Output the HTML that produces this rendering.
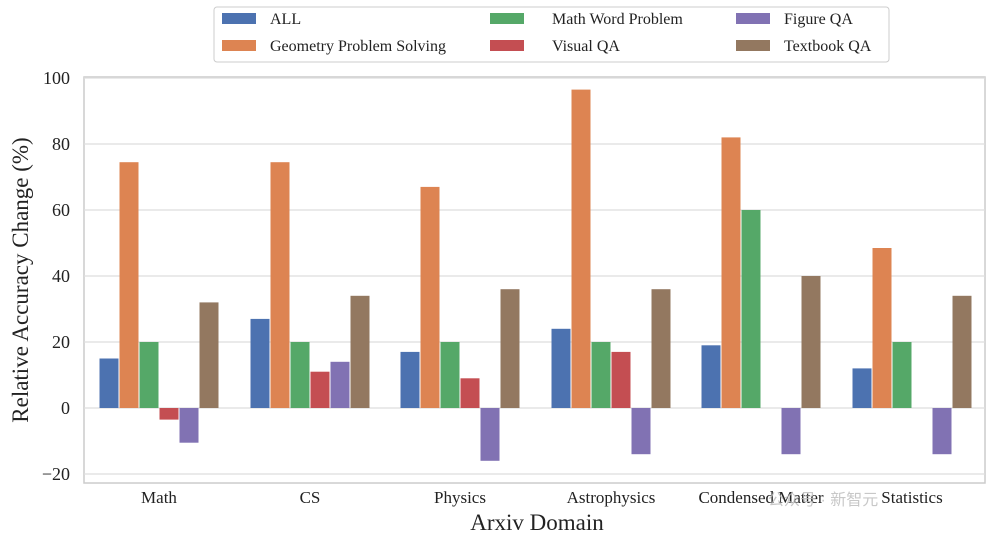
<!DOCTYPE html>
<html><head><meta charset="utf-8"><style>
body{margin:0;background:#fff;}
</style></head><body>
<svg width="1000" height="539" xmlns="http://www.w3.org/2000/svg" font-family="Liberation Serif, serif">
<rect x="0" y="0" width="1000" height="539" fill="#fff"/>
<rect x="84" y="77" width="901" height="406" fill="#fff" stroke="#ccc" stroke-width="1.5"/>
<g stroke="#ddd" stroke-width="1.2">
<line x1="84" x2="985" y1="78" y2="78"/>
<line x1="84" x2="985" y1="144" y2="144"/>
<line x1="84" x2="985" y1="210" y2="210"/>
<line x1="84" x2="985" y1="276" y2="276"/>
<line x1="84" x2="985" y1="342" y2="342"/>
<line x1="84" x2="985" y1="408" y2="408"/>
<line x1="84" x2="985" y1="474" y2="474"/>
</g>
<g font-size="18" fill="#222" text-anchor="end">
<text x="70" y="84">100</text><text x="70" y="150">80</text><text x="70" y="216">60</text>
<text x="70" y="282">40</text><text x="70" y="348">20</text><text x="70" y="414">0</text><text x="70" y="480">−20</text>
</g>
<text transform="translate(28,280) rotate(-90)" font-size="23" text-anchor="middle" fill="#222">Relative Accuracy Change (%)</text>
<text x="537" y="530" font-size="23" text-anchor="middle" fill="#222">Arxiv Domain</text>
<g font-size="17" fill="#222" text-anchor="middle">
<text x="159" y="503">Math</text><text x="310" y="503">CS</text><text x="460" y="503">Physics</text>
<text x="611" y="503">Astrophysics</text><text x="761" y="503">Condensed Matter</text><text x="912" y="503">Statistics</text>
</g>
<g>
<rect x="99.5" y="358.5" width="19" height="49.5" fill="#4C72B0"/>
<rect x="119.5" y="162.2" width="19" height="245.8" fill="#DD8452"/>
<rect x="139.5" y="342" width="19" height="66" fill="#55A868"/>
<rect x="159.5" y="408" width="19" height="11.6" fill="#C44E52"/>
<rect x="179.5" y="408" width="19" height="34.7" fill="#8172B3"/>
<rect x="199.5" y="302.4" width="19" height="105.6" fill="#937860"/>

<rect x="250.5" y="318.9" width="19" height="89.1" fill="#4C72B0"/>
<rect x="270.5" y="162.2" width="19" height="245.8" fill="#DD8452"/>
<rect x="290.5" y="342" width="19" height="66" fill="#55A868"/>
<rect x="310.5" y="371.7" width="19" height="36.3" fill="#C44E52"/>
<rect x="330.5" y="361.8" width="19" height="46.2" fill="#8172B3"/>
<rect x="350.5" y="295.8" width="19" height="112.2" fill="#937860"/>

<rect x="400.5" y="351.9" width="19" height="56.1" fill="#4C72B0"/>
<rect x="420.5" y="186.9" width="19" height="221.1" fill="#DD8452"/>
<rect x="440.5" y="342" width="19" height="66" fill="#55A868"/>
<rect x="460.5" y="378.3" width="19" height="29.7" fill="#C44E52"/>
<rect x="480.5" y="408" width="19" height="52.8" fill="#8172B3"/>
<rect x="500.5" y="289.2" width="19" height="118.8" fill="#937860"/>

<rect x="551.5" y="328.8" width="19" height="79.2" fill="#4C72B0"/>
<rect x="571.5" y="89.6" width="19" height="318.4" fill="#DD8452"/>
<rect x="591.5" y="342" width="19" height="66" fill="#55A868"/>
<rect x="611.5" y="351.9" width="19" height="56.1" fill="#C44E52"/>
<rect x="631.5" y="408" width="19" height="46.2" fill="#8172B3"/>
<rect x="651.5" y="289.2" width="19" height="118.8" fill="#937860"/>

<rect x="701.5" y="345.3" width="19" height="62.7" fill="#4C72B0"/>
<rect x="721.5" y="137.4" width="19" height="270.6" fill="#DD8452"/>
<rect x="741.5" y="210" width="19" height="198" fill="#55A868"/>
<rect x="781.5" y="408" width="19" height="46.2" fill="#8172B3"/>
<rect x="801.5" y="276" width="19" height="132" fill="#937860"/>

<rect x="852.5" y="368.4" width="19" height="39.6" fill="#4C72B0"/>
<rect x="872.5" y="248" width="19" height="160" fill="#DD8452"/>
<rect x="892.5" y="342" width="19" height="66" fill="#55A868"/>
<rect x="932.5" y="408" width="19" height="46.2" fill="#8172B3"/>
<rect x="952.5" y="295.8" width="19" height="112.2" fill="#937860"/>
</g>
<g font-size="16" fill="#bbb" font-family="Liberation Sans, Noto Sans CJK SC, sans-serif"><text x="768" y="505" opacity="0.8">公众号 · 新智元</text></g>
<rect x="214" y="7" width="675" height="55" rx="3" fill="#fff" stroke="#ccc"/>
<g font-size="16" fill="#222">
<rect x="222" y="13" width="34" height="11" fill="#4C72B0"/><text x="270" y="24">ALL</text>
<rect x="222" y="40" width="34" height="11" fill="#DD8452"/><text x="270" y="51">Geometry Problem Solving</text>
<rect x="490" y="13" width="34" height="11" fill="#55A868"/><text x="552" y="24">Math Word Problem</text>
<rect x="490" y="40" width="34" height="11" fill="#C44E52"/><text x="552" y="51">Visual QA</text>
<rect x="736" y="13" width="34" height="11" fill="#8172B3"/><text x="784" y="24">Figure QA</text>
<rect x="736" y="40" width="34" height="11" fill="#937860"/><text x="784" y="51">Textbook QA</text>
</g>
</svg>
</body></html>
